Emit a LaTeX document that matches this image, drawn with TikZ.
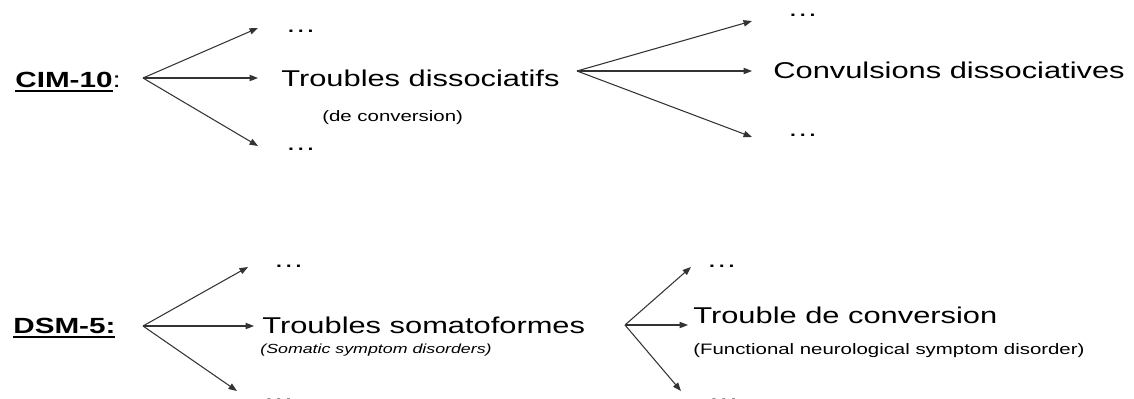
\documentclass[tikz,border=0pt]{standalone}
\usepackage{fontspec}
\setmainfont{Liberation Sans}[FakeStretch=1.35]
\usepackage{tikz}
\usetikzlibrary{arrows.meta}
\newsavebox{\ulbox}
\newcommand{\undl}[1]{\sbox{\ulbox}{#1}\rlap{\rule[-2.9pt]{\wd\ulbox}{1.1pt}}\usebox{\ulbox}}

\begin{document}
\begin{tikzpicture}[x=0.02cm,y=-0.02cm,
  lbl/.style={anchor=base west,inner sep=0pt,font=\fontsize{13}{15}\selectfont},
  sub/.style={anchor=base west,inner sep=0pt,font=\fontsize{8.6}{10}\selectfont},
  hd/.style={anchor=base west,inner sep=0pt,font=\fontsize{12.5}{15}\selectfont\bfseries},
  arr/.style={line width=0.6pt,black!80,-{Triangle[length=4.8pt,width=3.6pt]}}]
 \useasboundingbox (0,0) rectangle (1134,399);
 % \draw[thin,gray!40] (0,0) grid[step=50] (1134,399);
 \node[hd] (cim) at (15,87) {\undl{CIM-10}\mdseries:};
 \node[lbl] (dotsA) at (285,32) {…};
 \node[lbl] (tdis) at (281,86) {Troubles dissociatifs};
 \node[sub] (deconv) at (322,121) {(de conversion)};
 \node[lbl] (dotsB) at (285,150) {…};
 \node[lbl] (dotsC) at (787,16) {…};
 \node[lbl] (conv) at (773,78) {Convulsions dissociatives};
 \node[lbl] (dotsD) at (787,136) {…};
 \coordinate (f1) at (143,78);
 \coordinate (f1a) at (258,28);
 \coordinate (f1b) at (258,78);
 \coordinate (f1c) at (258,146);
 \coordinate (f2) at (577,71);
 \coordinate (f2a) at (752,21);
 \coordinate (f2b) at (752,71);
 \coordinate (f2c) at (752,137);
 \draw[arr] (f1)--(f1a);
 \draw[arr] (f1)--(f1b);
 \draw[arr] (f1)--(f1c);
 \draw[arr] (f2)--(f2a);
 \draw[arr] (f2)--(f2b);
 \draw[arr] (f2)--(f2c);
 % DSM-5
 \node[hd] (dsm) at (13,333) {\undl{DSM-5:}};
 \node[lbl] (dotsE) at (273,267) {…};
 \node[lbl] (tsom) at (262,333) {Troubles somatoformes};
 \node[anchor=base west,inner sep=0pt,font=\fontsize{7.5}{9}\selectfont\itshape] (somat) at (260,353) {(Somatic symptom disorders)};
 \node[lbl] (dotsF) at (263,401) {…};
 \node[lbl] (dotsG) at (706,267) {…};
 \node[lbl] (tconv) at (693,323) {Trouble de conversion};
 \node[sub] (func) at (693,354) {(Functional neurological symptom disorder)};
 \node[lbl] (dotsH) at (708,401) {…};
 \coordinate (f3) at (143,326);
 \coordinate (f3a) at (248,267);
 \coordinate (f3b) at (254,326);
 \coordinate (f3c) at (237,391);
 \coordinate (f4) at (625,325);
 \coordinate (f4a) at (691,267);
 \coordinate (f4b) at (688,325);
 \coordinate (f4c) at (681,391);
 \draw[arr] (f3)--(f3a);
 \draw[arr] (f3)--(f3b);
 \draw[arr] (f3)--(f3c);
 \draw[arr] (f4)--(f4a);
 \draw[arr] (f4)--(f4b);
 \draw[arr] (f4)--(f4c);
\end{tikzpicture}
\end{document}
